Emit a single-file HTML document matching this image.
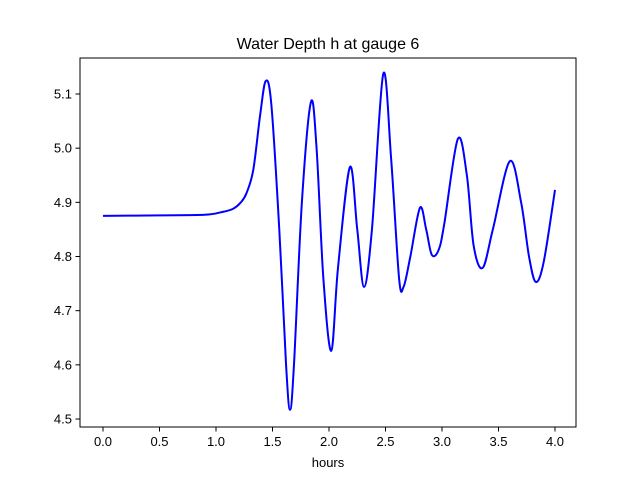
<!DOCTYPE html>
<html><head><meta charset="utf-8"><style>
body{margin:0;background:#fff;}
svg{display:block;font-family:"Liberation Sans","DejaVu Sans",sans-serif;}
</style></head><body>
<svg id="chart" width="640" height="480">
<rect x="0" y="0" width="640" height="480" fill="#fff"/>
<text x="328" y="49" font-size="16" text-anchor="middle">Water Depth h at gauge 6</text>
<g id="ticks"></g>
<path id="line" fill="none" stroke="#0000ff" stroke-width="2"/>
<rect x="80" y="58" width="496" height="369" fill="none" stroke="#000" stroke-width="1"/>
<text x="328" y="467" font-size="13" text-anchor="middle">hours</text>
</svg>
<script>
const times = [0,0.5,0.9,1.05,1.15,1.22,1.27,1.33,1.39,1.44,1.49,1.56,1.62,1.655,1.69,1.76,1.84,1.89,1.95,2.02,2.08,2.185,2.25,2.31,2.38,2.48,2.55,2.62,2.66,2.72,2.805,2.86,2.91,2.97,3.02,3.14,3.22,3.28,3.36,3.45,3.6,3.7,3.77,3.83,3.9,4.0];
const depths = [4.875,4.876,4.877,4.882,4.888,4.9,4.917,4.96,5.06,5.124,5.08,4.85,4.6,4.517,4.6,4.9,5.085,5.0,4.76,4.626,4.78,4.965,4.85,4.744,4.85,5.137,4.98,4.76,4.744,4.8,4.89,4.85,4.803,4.812,4.86,5.017,4.95,4.82,4.779,4.85,4.976,4.9,4.8,4.753,4.79,4.923];
const xTicks = [0,0.5,1,1.5,2,2.5,3,3.5,4];
const xTickLabels = ["0.0","0.5","1.0","1.5","2.0","2.5","3.0","3.5","4.0"];
const yTicks = [4.5,4.6,4.7,4.8,4.9,5.0,5.1];
const yTickLabels = ["4.5","4.6","4.7","4.8","4.9","5.0","5.1"];
const xs = t => 103 + t*113;
const ys = h => 94 + (5.1-h)*541.7;
const NS="http://www.w3.org/2000/svg";
const g=document.getElementById('ticks');
xTicks.forEach((t,i)=>{
  const l=document.createElementNS(NS,'line');
  l.setAttribute('x1',xs(t));l.setAttribute('x2',xs(t));l.setAttribute('y1',427);l.setAttribute('y2',431.5);l.setAttribute('stroke','#000');
  
  
  g.appendChild(l);
  const tx=document.createElementNS(NS,'text');
  tx.setAttribute('x',xs(t));tx.setAttribute('y',446);tx.setAttribute('font-size','13');tx.setAttribute('text-anchor','middle');
  tx.textContent=xTickLabels[i];
  
  
  g.appendChild(tx);
});
yTicks.forEach((v,i)=>{
  const l=document.createElementNS(NS,'line');
  l.setAttribute('x1',75.5);l.setAttribute('x2',80);l.setAttribute('y1',ys(v));l.setAttribute('y2',ys(v));l.setAttribute('stroke','#000');
  
  
  g.appendChild(l);
  const tx=document.createElementNS(NS,'text');
  tx.setAttribute('x',72);tx.setAttribute('y',ys(v)+4.5);tx.setAttribute('font-size','13');tx.setAttribute('text-anchor','end');
  tx.textContent=yTickLabels[i];
  
  
  g.appendChild(tx);
});
const P=times.map((t,i)=>[xs(t),ys(depths[i])]);
let d='M'+P[0][0]+','+P[0][1];
for(let i=0;i<P.length-1;i++){
  const p0=P[Math.max(i-1,0)],p1=P[i],p2=P[i+1],p3=P[Math.min(i+2,P.length-1)];
  const k=1/6;
  d+=' C'+(p1[0]+(p2[0]-p0[0])*k)+','+(p1[1]+(p2[1]-p0[1])*k)+' '+(p2[0]-(p3[0]-p1[0])*k)+','+(p2[1]-(p3[1]-p1[1])*k)+' '+p2[0]+','+p2[1];
}
document.getElementById('line').setAttribute('d',d);
</script>
</body></html>
